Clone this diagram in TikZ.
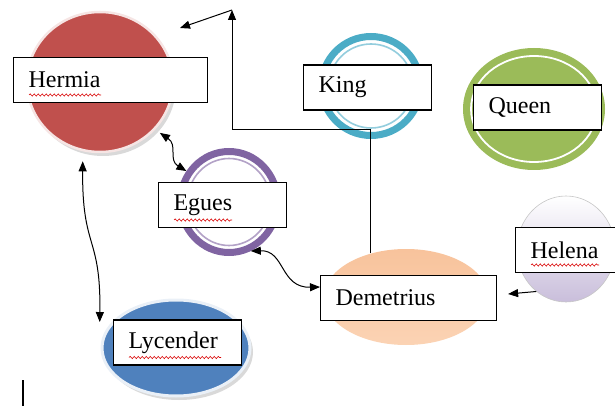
\documentclass[tikz,border=0pt]{standalone}
\usepackage{fontspec}
\setmainfont{Liberation Serif}
\usetikzlibrary{shapes.geometric,arrows.meta,shadows,decorations.pathmorphing}

\definecolor{hermiared}{HTML}{C0504D}
\definecolor{kingteal}{HTML}{4BACC6}
\definecolor{queengreen}{HTML}{9BBB59}
\definecolor{eguespurple}{HTML}{8064A2}
\definecolor{lycblue}{HTML}{4F81BD}
\definecolor{demtop}{HTML}{F8C39C}
\definecolor{dembottom}{HTML}{FBD3B4}
\definecolor{helenalav}{HTML}{C9BEDB}

\tikzset{
	namebox/.style={draw, fill=white, line width=1.1pt, anchor=west, minimum height=45pt,
		inner xsep=15pt, text width=#1, align=left, font=\fontsize{24}{27}\selectfont},
	ringed/.style={ellipse, draw=#1, line width=7pt, fill=white},
	innerring/.style={ellipse, draw=#1, line width=1.6pt},
	softshadow/.style={drop shadow={shadow xshift=3pt, shadow yshift=-4pt, fill=black!25, opacity=.6}},
	spellcheck/.style={red!85!black, line width=.6pt, decorate,
		decoration={snake, amplitude=1.1pt, segment length=4pt}},
	tip/.style={line width=1pt, -{Triangle[length=10pt,width=8pt]}},
	tips/.style={line width=1pt, {Triangle[length=10pt,width=8pt]}-{Triangle[length=10pt,width=8pt]}}
}

\begin{document}
\begin{tikzpicture}[x=1pt, y=-1pt]
	\useasboundingbox (0,0) rectangle (615,406);
	\clip (0,0) rectangle (615,406);
	% circles
	\node[ellipse, fill=hermiared, draw=hermiared!15!white, line width=2.5pt, softshadow,
		minimum width=146pt, minimum height=140pt] (hermia) at (100,82) {};
	\node[ringed=kingteal, minimum width=99pt, minimum height=99pt] (king) at (371,86) {};
	\node[innerring=kingteal!60, minimum width=84pt, minimum height=84pt] at (king) {};
	\node[ellipse, fill=queengreen, minimum width=142pt, minimum height=122pt] (queen) at (534,109) {};
	\node[innerring=white, line width=1.8pt, minimum width=126pt, minimum height=106pt] at (queen) {};
	\node[ringed=eguespurple, minimum width=97pt, minimum height=101pt] (egues) at (229,202) {};
	\node[innerring=eguespurple!60, minimum width=83pt, minimum height=87pt] at (egues) {};
	\node[ellipse, fill=lycblue, draw=lycblue!12!white, line width=3pt, softshadow,
		minimum width=148pt, minimum height=96pt] (lycender) at (176,348) {};
	\node[ellipse, top color=demtop, bottom color=dembottom,
		minimum width=164pt, minimum height=96pt] (demetrius) at (406,297) {};
	\node[ellipse, top color=white, bottom color=helenalav, draw=gray!45, line width=.6pt,
		minimum width=98pt, minimum height=106pt] (helena) at (566,249) {};
	% name boxes
	\node[namebox=164pt] (hermiabox) at (13,80) {Hermia};
	\node[namebox=98pt] (kingbox) at (303,87.5) {King};
	\node[namebox=98pt] (queenbox) at (473,107.5) {Queen};
	\node[namebox=98pt] (eguesbox) at (158,205) {Egues};
	\node[namebox=98pt] (lycenderbox) at (113,342.5) {Lycender};
	\node[namebox=146pt] (demetriusbox) at (320,298) {Demetrius};
	\node[namebox=100pt] (helenabox) at (515,250) {Helena};
	% spelling marks
	\draw[spellcheck] ([shift={(16,15)}]hermiabox.west) -- ++(72,0);
	\draw[spellcheck] ([shift={(16,15)}]eguesbox.west) -- ++(58,0);
	\draw[spellcheck] ([shift={(16,15)}]lycenderbox.west) -- ++(92,0);
	\draw[spellcheck] ([shift={(16,15)}]helenabox.west) -- ++(68,0);
	% connectors
	\coordinate (apex) at (232,10);
	\coordinate (bend) at (232,130);
	\coordinate (hermiatip) at (180,28);
	\draw[tip] (demetrius.129) |- (bend) -- (apex);
	\draw[tip] (apex) -- (hermiatip);
	\draw[tips] ([shift={(4pt,-4pt)}]hermia.-40) .. controls (178,145) and (168,160) .. (egues.144);
	\draw[tips] ([yshift=-10pt]hermia.-104) .. controls (82,250) and (101,235) .. ([xshift=-12pt]lycender.158);
	\draw[tips] (egues.-66) .. controls (285,250) and (280,288) .. ([yshift=11pt]demetriusbox.west);
	\draw[tip] (helena.-125) -- ([xshift=11pt,yshift=4pt]demetriusbox.east);
	% text cursor
	\draw[line width=2.5pt] (23,380) -- (23,406);
\end{tikzpicture}
\end{document}
